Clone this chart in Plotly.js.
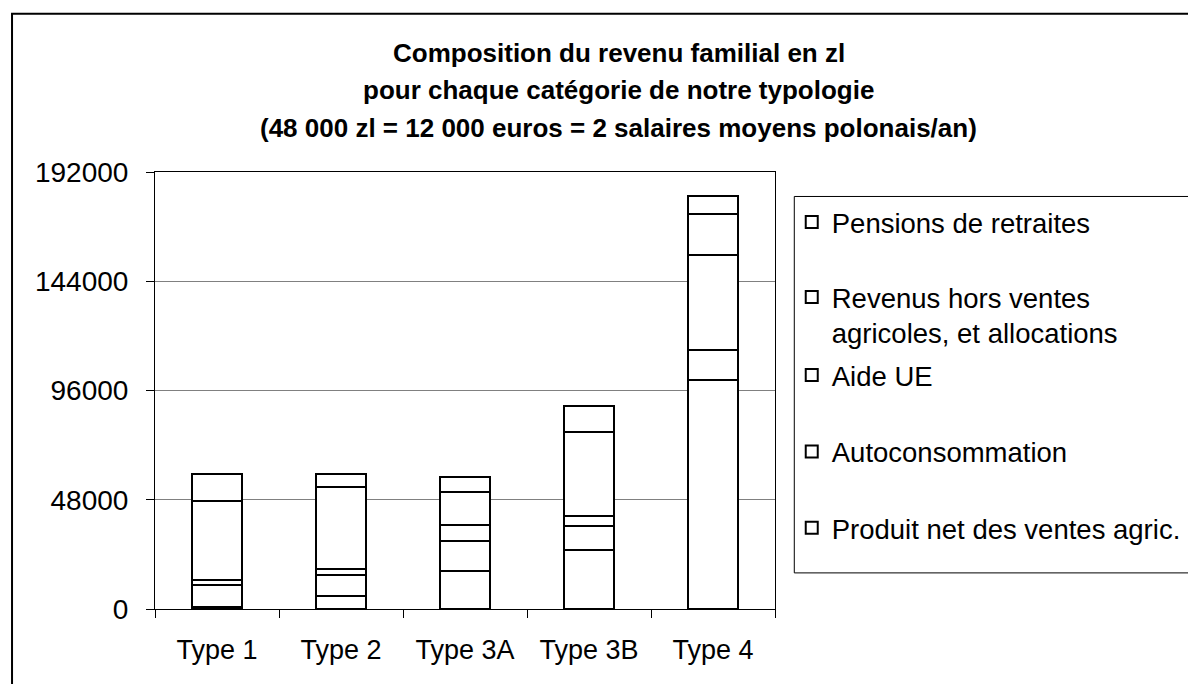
<!DOCTYPE html>
<html>
<head>
<meta charset="utf-8">
<script src="https://cdn.plot.ly/plotly-3.0.1.min.js"></script>
<style>html,body{margin:0;padding:0;background:#fff;}#chart{width:1188px;height:684px;}</style>
</head>
<body>
<div id="chart"></div>
<script>
const categories = ["Type 1", "Type 2", "Type 3A", "Type 3B", "Type 4"];
const produitNet = [1000, 5600, 16700, 26000, 100600];
const autoconsommation = [9400, 9300, 13100, 10300, 13400];
const aideUE = [2300, 2500, 7300, 4700, 41500];
const revenusHors = [34600, 36000, 14100, 36900, 18200];
const pensions = [11800, 5700, 7000, 11200, 7700];
const seriesNames = ["Produit net des ventes agric.", "Autoconsommation", "Aide UE", "Revenus hors ventes<br>agricoles, et allocations", "Pensions de retraites"];
const yTicks = [0, 48000, 96000, 144000, 192000];
const titleLines = ["Composition du revenu familial en zl", "pour chaque catégorie de notre typologie", "(48 000 zl = 12 000 euros = 2 salaires moyens polonais/an)"];

const FONT = "Liberation Sans, Arial, sans-serif";
const seriesValues = [produitNet, autoconsommation, aideUE, revenusHors, pensions];
const legendIds = ["legend5", "legend4", "legend3", "legend2", "legend"];

const traces = seriesValues.map((vals, i) => ({
  type: "bar",
  x: categories,
  y: vals,
  name: seriesNames[i],
  legend: legendIds[i],
  marker: {color: "#ffffff", line: {color: "#000000", width: 2}},
  hoverinfo: "skip"
}));

function mkLegend(y, valign) {
  return {
    x: 1.027, y: y, xanchor: "left", yanchor: "middle",
    bgcolor: "rgba(0,0,0,0)", borderwidth: 0,
    font: {family: FONT, size: 27.5, color: "#000"},
    valign: valign || "middle",
    itemclick: false, itemdoubleclick: false
  };
}

const layout = {
  width: 1188, height: 684,
  margin: {l: 155, r: 413, t: 171.5, b: 74.5, autoexpand: false},
  paper_bgcolor: "#ffffff",
  plot_bgcolor: "#ffffff",
  barmode: "stack",
  bargap: 0.6,
  showlegend: true,
  legend: mkLegend(0.8854),
  legend2: mkLegend(0.6727, "top"),
  legend3: mkLegend(0.5354),
  legend4: mkLegend(0.3603),
  legend5: mkLegend(0.1854),
  xaxis: {
    type: "category",
    showline: true, linecolor: "#000", linewidth: 1, mirror: true,
    ticks: "outside", ticklen: 8, tickcolor: "#000", tickson: "boundaries",
    ticklabelstandoff: 17,
    tickfont: {family: FONT, size: 27, color: "#000"},
    showgrid: false, zeroline: false, fixedrange: true
  },
  yaxis: {
    range: [0, 192000],
    tickvals: yTicks,
    ticktext: yTicks.map(String),
    showline: true, linecolor: "#000", linewidth: 1, mirror: true,
    ticks: "outside", ticklen: 8, tickcolor: "#000",
    ticklabelstandoff: 12,
    tickfont: {family: FONT, size: 28, color: "#000"},
    showgrid: true, gridcolor: "#808080", gridwidth: 1,
    zeroline: false, fixedrange: true
  },
  annotations: [
    {text: titleLines[0], x: 0.7476, y: 1.2717},
    {text: titleLines[1], x: 0.7476, y: 1.1865},
    {text: titleLines[2], x: 0.7476, y: 1.1016}
  ].map(a => Object.assign(a, {
    xref: "paper", yref: "paper", xanchor: "center", yanchor: "middle",
    showarrow: false, font: {family: FONT, size: 26, color: "#000", weight: "bold"}
  })),
  shapes: [
    {type: "rect", xref: "paper", yref: "paper", x0: -0.2306, x1: 1.75, y0: -0.25, y1: 1.3619,
     line: {color: "#000", width: 2}, fillcolor: "rgba(0,0,0,0)", layer: "below"},
    {type: "rect", xref: "paper", yref: "paper", x0: 1.0311, x1: 1.75, y0: 0.0826, y1: 0.944,
     line: {color: "#000", width: 1}, fillcolor: "rgba(0,0,0,0)", layer: "below"}
  ]
};

Plotly.newPlot("chart", traces, layout, {displayModeBar: false});
</script>
</body>
</html>
